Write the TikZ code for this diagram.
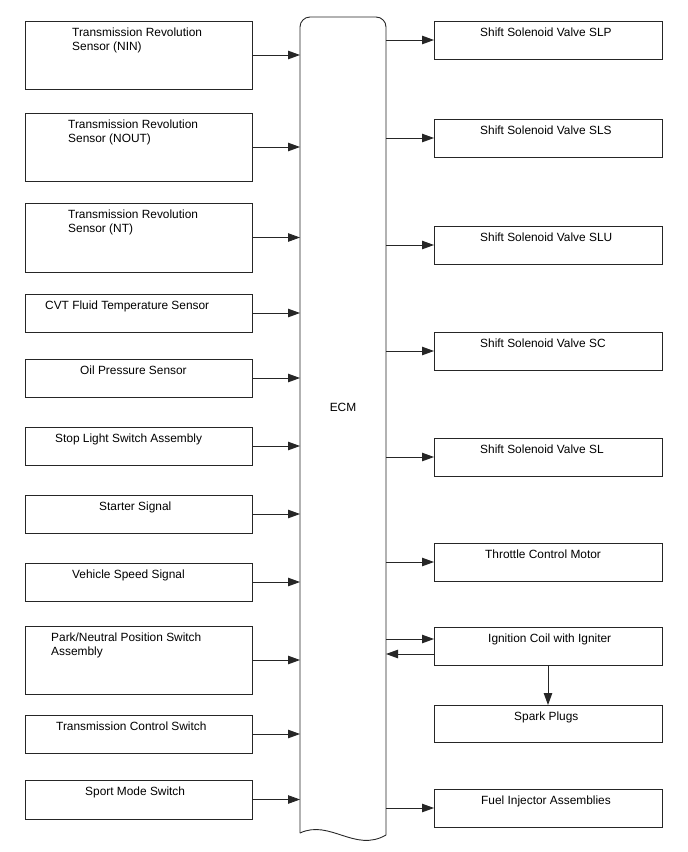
\documentclass[tikz,border=0pt]{standalone}
\usepackage{fontspec}
\setmainfont{Liberation Sans}
\usetikzlibrary{arrows.meta,calc}
\newcommand{\twoline}[2]{\begin{tabular}[t]{@{}l@{}}#1\\#2\end{tabular}}
\tikzset{
  line/.style={draw=black!85, line width=0.9pt},
  lbox/.style={line, rectangle, inner sep=0pt, outer sep=0pt, minimum width=227pt},
  rbox/.style={line, rectangle, inner sep=0pt, outer sep=0pt, minimum width=228pt, minimum height=38pt},
  txt/.style={anchor=base west, inner sep=0pt, yshift=1pt, font=\fontsize{11.9}{14}\selectfont},
  arr/.style={line, -{Triangle[length=12pt,width=8.5pt]}},
}
\begin{document}
\begin{tikzpicture}[x=1pt,y=-1pt]
\useasboundingbox (0,0) rectangle (688,852);
% ECM
\node[rectangle, inner sep=0pt, outer sep=0pt, minimum width=86pt, minimum height=818pt] (ecm) at (343,426) {};
\draw[line, rounded corners=10pt] (ecm.south east) -- (ecm.north east) -- (ecm.north west) -- ($(ecm.south west)+(0,-2)$);
\draw[line] ($(ecm.south west)+(0,-2)$) .. controls +(30,-14) and +(-31,18) .. (ecm.south east);
\node[font=\fontsize{11.9}{14}\selectfont] (ecmt) at (343,407) {ECM};
% left boxes
\node[lbox, minimum height=68pt] (l1) at (138.5,55) {};
\node[lbox, minimum height=68pt] (l2) at (138.5,147) {};
\node[lbox, minimum height=69pt] (l3) at (138.5,237.5) {};
\node[lbox, minimum height=38pt] (l4) at (138.5,313) {};
\node[lbox, minimum height=38pt] (l5) at (138.5,378) {};
\node[lbox, minimum height=38pt] (l6) at (138.5,446) {};
\node[lbox, minimum height=38pt] (l7) at (138.5,514) {};
\node[lbox, minimum height=38pt] (l8) at (138.5,582) {};
\node[lbox, minimum height=68pt] (l9) at (138.5,660) {};
\node[lbox, minimum height=38pt] (l10) at (138.5,734) {};
\node[lbox, minimum height=39pt] (l11) at (138.5,799.5) {};
\node[txt] (l1t) at (72,37) {\twoline{Transmission Revolution}{Sensor (NIN)}};
\node[txt] (l2t) at (68,129) {\twoline{Transmission Revolution}{Sensor (NOUT)}};
\node[txt] (l3t) at (68,219) {\twoline{Transmission Revolution}{Sensor (NT)}};
\node[txt] (l4t) at (45,310) {CVT Fluid Temperature Sensor};
\node[txt] (l5t) at (80,375) {Oil Pressure Sensor};
\node[txt] (l6t) at (55,443) {Stop Light Switch Assembly};
\node[txt] (l7t) at (99,511) {Starter Signal};
\node[txt] (l8t) at (72,579) {Vehicle Speed Signal};
\node[txt] (l9t) at (51,642) {\twoline{Park/Neutral Position Switch}{Assembly}};
\node[txt] (l10t) at (56,731) {Transmission Control Switch};
\node[txt] (l11t) at (85,796) {Sport Mode Switch};
\foreach \n in {l1,l2,l3,l4,l5,l6,l7,l8,l9,l10,l11}
  \draw[arr] (\n.east) -- (\n.east -| ecm.west);
% right boxes
\node[rbox] (r1) at (548,40) {};
\node[rbox] (r2) at (548,138) {};
\node[rbox] (r3) at (548,245) {};
\node[rbox] (r4) at (548,351) {};
\node[rbox] (r5) at (548,457) {};
\node[rbox] (r6) at (548,562) {};
\node[rbox] (r7) at (548,646) {};
\node[rbox, minimum height=37pt] (r8) at (548,723.5) {};
\node[rbox] (r9) at (548,808) {};
\node[txt] (r1t) at (480,37) {Shift Solenoid Valve SLP};
\node[txt] (r2t) at (480,135) {Shift Solenoid Valve SLS};
\node[txt] (r3t) at (480,242) {Shift Solenoid Valve SLU};
\node[txt] (r4t) at (480,348) {Shift Solenoid Valve SC};
\node[txt] (r5t) at (480,454) {Shift Solenoid Valve SL};
\node[txt] (r6t) at (485,559) {Throttle Control Motor};
\node[txt] (r7t) at (488,643) {Ignition Coil with Igniter};
\node[txt] (r8t) at (514,721) {Spark Plugs};
\node[txt] (r9t) at (481,805) {Fuel Injector Assemblies};
\foreach \n in {r1,r2,r3,r4,r5,r6,r9}
  \draw[arr] (ecm.east |- \n.west) -- (\n.west);
\coordinate (igin) at ([yshift=7pt]r7.west);
\coordinate (igout) at ([yshift=-8pt]r7.west);
\draw[arr] (ecm.east |- igin) -- (igin);
\draw[arr] (igout) -- (ecm.east |- igout);
\draw[arr] (r7.south) -- (r8.north);
\end{tikzpicture}
\end{document}
